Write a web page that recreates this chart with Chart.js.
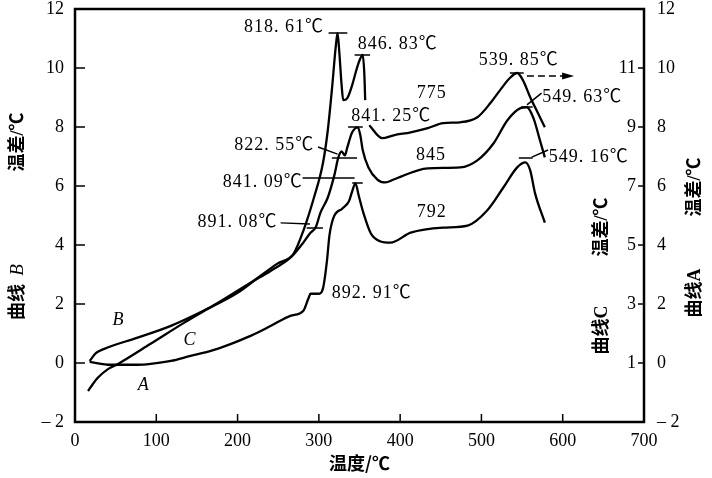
<!DOCTYPE html>
<html>
<head>
<meta charset="utf-8">
<script src="https://cdn.jsdelivr.net/npm/chart.js@4"></script>
<style>
  html, body { margin: 0; padding: 0; background: #fff; }
  #wrap { width: 712px; height: 478px; }
</style>
</head>
<body>
<div id="wrap"><canvas id="dta"></canvas></div>
<script>
// curve A (right outer axis), temperature / temperature difference
const aTemp = [18, 44, 77, 93, 118, 142, 167, 192, 216, 241, 265, 281, 287, 290, 300, 305, 310, 313, 318, 329,
  337, 341, 345, 349, 355, 364, 376, 388, 413, 453, 483, 507, 527, 544, 554, 560, 566, 578];
const aDelta = [0.04, -0.06, -0.06, -0.03, 0.07, 0.24, 0.41, 0.65, 0.92, 1.26, 1.60, 1.77, 2.18, 2.35, 2.35, 2.52, 3.47, 4.32, 4.93, 5.24,
  5.48, 5.82, 6.09, 5.68, 5.07, 4.39, 4.12, 4.08, 4.42, 4.59, 4.66, 5.17, 5.95, 6.63, 6.80, 6.53, 5.75, 4.76];

// curve B (left axis), broken after the second peak
const bTemp = [18, 26, 36, 77, 118, 158, 200, 225, 249, 269, 281, 294, 305, 311, 316, 321, 323, 325, 328, 330,
  335, 341, 348, 354, 356, 357, 360, 362, 378, 392, 413, 434, 453, 474, 495, 511, 523, 535, 544, 551, 560, 569, 578];
const bDelta = [0.07, 0.34, 0.48, 0.86, 1.26, 1.77, 2.38, 2.89, 3.37, 3.71, 4.49, 5.61, 6.77, 7.89, 9.25, 10.78, 11.18, 10.6, 9.42, 8.91,
  8.98, 9.42, 10.1, 10.44, 9.76, 8.91, null, 8.06, 7.62, 7.72, 7.82, 7.96, 8.13, 8.16, 8.33, 8.81, 9.25, 9.66, 9.83, 9.59, 9.01, 8.50, 7.99];

// curve C (right inner axis)
const cTemp = [16, 22, 28, 41, 53, 93, 134, 176, 216, 241, 265, 278, 290, 296, 302, 311, 319, 324, 328, 332,
  335, 341, 348, 351, 354, 361, 372, 382, 392, 434, 474, 495, 515, 532, 548, 556, 564, 572, 578];
const cDelta = [0.05, 0.29, 0.50, 0.80, 0.97, 1.65, 2.36, 3.04, 3.72, 4.13, 4.57, 4.98, 5.42, 5.59, 6.10, 6.61, 7.36, 7.97, 8.17, 8.04,
  8.31, 8.82, 8.99, 8.72, 8.21, 7.63, 7.22, 7.12, 7.22, 7.60, 7.63, 7.87, 8.45, 9.23, 9.64, 9.67, 9.30, 8.55, 7.97];

const tempTicks = [0, 100, 200, 300, 400, 500, 600, 700];
const bTicks = [-2, 0, 2, 4, 6, 8, 10, 12];
const aTicks = [-2, 0, 2, 4, 6, 8, 10, 12];
const cTicks = [1, 3, 5, 7, 9, 11];

// peak notes, placed in temperature / curve-B units
const notes = [
  ['818. 61℃', 257, 11.39], ['846. 83℃', 397, 10.81], ['841. 25℃', 389, 8.37],
  ['822. 55℃', 245, 7.39], ['841. 09℃', 231, 6.14], ['891. 08℃', 200, 4.78],
  ['892. 91℃', 365, 2.37], ['775', 439, 9.15], ['845', 438, 7.05], ['792', 439, 5.12],
  ['539. 85℃', 546, 10.27], ['549. 63℃', 624, 9.02], ['549. 16℃', 632, 6.98]
];
const curveNames = [['B', 53, 1.46], ['C', 141, 0.78], ['A', 84, -0.75]];
// short bars on the peaks and leader lines to the notes
const marks = [
  [312, 11.19, 335, 11.19], [344, 10.44, 363, 10.44], [336, 8.0, 354, 8.0],
  [299, 7.32, 323, 7.08], [316, 6.95, 347, 6.95], [280, 6.27, 344, 6.27], [341, 6.10, 354, 6.10],
  [253, 4.75, 289, 4.71], [285, 4.58, 305, 4.58], [288, 2.34, 301, 2.34],
  [535, 9.83, 552, 9.83], [556, 8.75, 574, 9.15], [549, 8.68, 563, 8.68],
  [562, 6.98, 582, 7.22], [546, 6.95, 563, 6.95]
];
const arrow = [556, 9.73, 614];

const serif = '"Liberation Serif", "Noto Sans CJK SC", serif';
const cjk = '"Noto Sans CJK SC", sans-serif';
const titleFont = 'bold 18px "Liberation Serif", "Noto Sans CJK SC", serif';

function pts(xs, ys) {
  return xs.map((x, i) => ({ x: x, y: ys[i] }));
}

function line(label, xs, ys, axis) {
  return {
    label: label,
    data: pts(xs, ys),
    yAxisID: axis,
    borderColor: '#000',
    borderWidth: 2.3,
    pointRadius: 0,
    fill: false,
    spanGaps: false,
    cubicInterpolationMode: 'monotone',
  };
}

function setTicks(list) {
  return scale => { scale.ticks = list.map(v => ({ value: v })); };
}

// fixed axis size, and no extra room for half-labels at the ends
function fitTo(size) {
  return s => {
    if (s.isHorizontal()) s.height = size; else s.width = size;
    s.paddingTop = 0;
    s.paddingBottom = 0;
    s.paddingLeft = 0;
    s.paddingRight = 0;
  };
}

function minus(v) {
  return v < 0 ? '– ' + Math.abs(v) : String(v);
}

function vText(ctx, text, x, y, font) {
  ctx.save();
  ctx.translate(x, y);
  ctx.rotate(-Math.PI / 2);
  ctx.font = font;
  ctx.textAlign = 'center';
  ctx.textBaseline = 'middle';
  ctx.fillText(text, 0, 0);
  ctx.restore();
}

const extras = {
  id: 'extras',
  afterDraw(chart) {
    const { ctx, chartArea: a, scales } = chart;
    const x = scales.x, yB = scales.yB, yC = scales.yC;
    const px = v => x.getPixelForValue(v);
    const py = v => yB.getPixelForValue(v);
    ctx.save();
    ctx.strokeStyle = '#000';
    ctx.fillStyle = '#000';
    ctx.lineWidth = 2.5;
    ctx.strokeRect(a.left, a.top, a.right - a.left, a.bottom - a.top);

    // inward tick marks
    ctx.lineWidth = 1.5;
    ctx.beginPath();
    x.ticks.forEach(t => {
      if (t.value > x.min && t.value < x.max) {
        ctx.moveTo(px(t.value), a.bottom);
        ctx.lineTo(px(t.value), a.bottom - 8);
      }
    });
    yB.ticks.forEach(t => {
      if (t.value > yB.min && t.value < yB.max) {
        ctx.moveTo(a.left, py(t.value));
        ctx.lineTo(a.left + 10, py(t.value));
      }
    });
    yC.ticks.forEach(t => {
      const y = yC.getPixelForValue(t.value);
      ctx.moveTo(a.right, y);
      ctx.lineTo(a.right - 6, y);
    });
    ctx.stroke();

    // peak bars and leaders
    ctx.beginPath();
    marks.forEach(m => {
      ctx.moveTo(px(m[0]), py(m[1]));
      ctx.lineTo(px(m[2]), py(m[3]));
    });
    ctx.stroke();

    // dashed arrow from the 539.85 peak
    ctx.setLineDash([7, 4]);
    ctx.beginPath();
    ctx.moveTo(px(arrow[0]), py(arrow[1]));
    ctx.lineTo(px(arrow[2]) - 10, py(arrow[1]));
    ctx.stroke();
    ctx.setLineDash([]);
    ctx.beginPath();
    ctx.moveTo(px(arrow[2]), py(arrow[1]));
    ctx.lineTo(px(arrow[2]) - 12, py(arrow[1]) - 3.5);
    ctx.lineTo(px(arrow[2]) - 12, py(arrow[1]) + 3.5);
    ctx.closePath();
    ctx.fill();

    ctx.textAlign = 'center';
    ctx.textBaseline = 'middle';
    ctx.font = '18px ' + serif;
    ctx.letterSpacing = '1px';
    notes.forEach(n => ctx.fillText(n[0], px(n[1]), py(n[2])));
    ctx.letterSpacing = '0px';
    ctx.font = 'italic 18px ' + serif;
    curveNames.forEach(n => ctx.fillText(n[0], px(n[1]), py(n[2])));

    // axis titles, written bottom to top
    vText(ctx, '温差/℃', 18, 142, titleFont);
    vText(ctx, '曲线', 18, 302, titleFont);
    vText(ctx, 'B', 18, 270, 'italic 19px ' + serif);
    vText(ctx, '温差/℃', 602, 227, titleFont);
    vText(ctx, '曲线C', 602, 330, titleFont);
    vText(ctx, '温差/℃', 695, 187, titleFont);
    vText(ctx, '曲线A', 695, 293, titleFont);
    ctx.restore();
  }
};

new Chart(document.getElementById('dta'), {
  type: 'line',
  data: {
    datasets: [
      line('A', aTemp, aDelta, 'yA'),
      line('B', bTemp, bDelta, 'yB'),
      line('C', cTemp, cDelta, 'yC'),
    ],
  },
  options: {
    responsive: true,
    maintainAspectRatio: false,
    devicePixelRatio: 1,
    animation: false,
    layout: { padding: { top: 9 } },
    plugins: { legend: { display: false }, tooltip: { enabled: false } },
    scales: {
      x: {
        type: 'linear',
        min: 0,
        max: 700,
        afterBuildTicks: setTicks(tempTicks),
        afterFit: fitTo(56),
        grid: { display: false, drawTicks: false },
        border: { display: false },
        ticks: { color: '#000', padding: 8, font: { family: serif, size: 18 } },
        title: {
          display: true,
          text: '温度/℃',
          color: '#000',
          padding: { top: 0, bottom: 4 },
          font: { family: cjk, size: 18, weight: 'bold' },
        },
      },
      yB: {
        position: 'left',
        min: -2,
        max: 12,
        afterBuildTicks: setTicks(bTicks),
        afterFit: fitTo(75),
        grid: { display: false, drawTicks: false },
        border: { display: false },
        ticks: { color: '#000', padding: 11, font: { family: serif, size: 18 }, callback: minus },
      },
      yC: {
        position: 'right',
        weight: 0,
        min: -1,
        max: 13,
        afterBuildTicks: setTicks(cTicks),
        afterFit: fitTo(0),
        grid: { display: false, drawTicks: false },
        border: { display: false },
        ticks: { color: '#000', mirror: true, padding: -8, font: { family: serif, size: 18 } },
      },
      yA: {
        position: 'right',
        weight: 1,
        min: -2,
        max: 12,
        afterBuildTicks: setTicks(aTicks),
        afterFit: fitTo(68),
        grid: { display: false, drawTicks: false },
        border: { display: false },
        ticks: { color: '#000', padding: 13, font: { family: serif, size: 18 }, callback: minus },
      },
    },
  },
  plugins: [extras],
});
</script>
</body>
</html>
